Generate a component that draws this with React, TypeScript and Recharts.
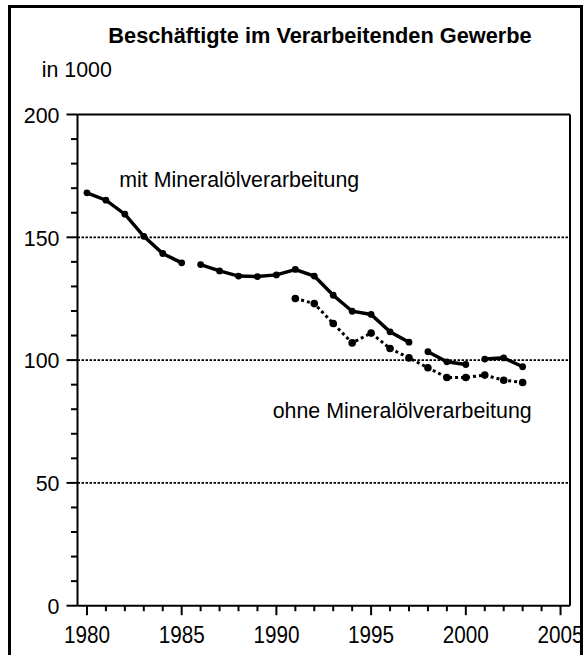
import React from "react";
import { LineChart, Line, XAxis, YAxis, ReferenceLine } from "recharts";

// Beschäftigte im Verarbeitenden Gewerbe, in 1000
const years = [
  1980, 1981, 1982, 1983, 1984, 1985, 1986, 1987, 1988, 1989, 1990, 1991,
  1992, 1993, 1994, 1995, 1996, 1997, 1998, 1999, 2000, 2001, 2002, 2003,
];
const mitValues = [
  168.1, 165.1, 159.4, 150.4, 143.4, 139.6, 138.9, 136.3, 134.2, 134.0, 134.7, 136.9,
  134.2, 126.4, 119.9, 118.6, 111.5, 107.3, 103.4, 99.3, 98.2, 100.4, 100.9, 97.3,
];
const ohneValues = [
  null, null, null, null, null, null, null, null, null, null, null, 125.1,
  123.0, 114.9, 107.0, 111.0, 104.7, 100.9, 96.9, 92.9, 92.9, 93.9, 91.8, 90.9,
];
// years where the "mit" line starts a new segment
const mitBreaks = [1986, 1998, 2001];

const xTicks = [
  1980, 1981, 1982, 1983, 1984, 1985, 1986, 1987, 1988, 1989, 1990, 1991, 1992,
  1993, 1994, 1995, 1996, 1997, 1998, 1999, 2000, 2001, 2002, 2003, 2004, 2005,
];
const yTicks = [0, 10, 20, 30, 40, 50, 60, 70, 80, 90, 100, 110, 120, 130, 140, 150, 160, 170, 180, 190, 200];
const gridValues = [50, 100, 150];

const FONT = "'Liberation Sans', Arial, Helvetica, sans-serif";
const SQUEEZE = 0.93; // reference font is a bit narrower than Liberation Sans

const segmentOf = (year: number) => mitBreaks.filter((b) => year >= b).length;
const mitKeys = ["mit0", "mit1", "mit2", "mit3"];

const data = years.map((year, i) => {
  const row: any = { year, ohne: ohneValues[i] };
  row["mit" + segmentOf(year)] = mitValues[i];
  return row;
});

// narrow text helper
const NText = ({ x, y, anchor = "start", size = 23, bold = false, sx = SQUEEZE, dy, children }: any) => (
  <text
    transform={`translate(${x} ${y}) scale(${sx} 1)`}
    x={0}
    y={0}
    dy={dy}
    textAnchor={anchor}
    fontSize={size}
    fontWeight={bold ? "bold" : "normal"}
    fontFamily={FONT}
    fill="#000"
  >
    {children}
  </text>
);

const YTick = (props: any) => {
  const { x, y, payload } = props;
  const major = payload.value % 50 === 0;
  return (
    <g>
      <line x1={x} x2={x - (major ? 11 : 6.5)} y1={y} y2={y} stroke="#000" strokeWidth={2} />
      {major && (
        <NText x={x - 18} y={y} dy="0.36em" anchor="end">
          {payload.value}
        </NText>
      )}
    </g>
  );
};

const XTick = (props: any) => {
  const { x, y, payload } = props;
  const major = payload.value % 5 === 0;
  return (
    <g>
      <line x1={x} x2={x} y1={y} y2={y + (major ? 9.5 : 5.5)} stroke="#000" strokeWidth={2} />
      {major && (
        <NText x={x} y={y + 29.5} dy="0.36em" anchor="middle" sx={0.9}>
          {payload.value}
        </NText>
      )}
    </g>
  );
};

export default function App() {
  return (
    <div style={{ position: "fixed", left: 0, top: 0, width: 587, height: 655, overflow: "hidden", background: "#fff" }}>
      <div
        style={{
          position: "absolute",
          left: 7.5,
          top: 5,
          width: 575.5,
          height: 700,
          border: "3px solid #000",
          boxSizing: "border-box",
        }}
      />
      <div style={{ position: "absolute", left: 0, top: 0 }}>
        <LineChart width={587} height={655} data={data} margin={{ top: 114.5, right: 17, bottom: 9.3, left: 17.5 }}>
          <XAxis
            type="number"
            dataKey="year"
            domain={[1979.5, 2005.5]}
            ticks={xTicks}
            interval={0}
            height={40}
            tickSize={0}
            tickMargin={0}
            tickLine={false}
            axisLine={{ stroke: "#000", strokeWidth: 2 }}
            tick={<XTick />}
            allowDataOverflow
          />
          <YAxis
            domain={[0, 200]}
            ticks={yTicks}
            interval={0}
            width={60}
            tickSize={0}
            tickMargin={0}
            tickLine={false}
            axisLine={{ stroke: "#000", strokeWidth: 2 }}
            tick={<YTick />}
            allowDataOverflow
          />
          {gridValues.map((v) => (
            <ReferenceLine key={v} y={v} stroke="#000" strokeWidth={1.7} strokeDasharray="2.5 1.5" />
          ))}
          <ReferenceLine y={200} stroke="#000" strokeWidth={2} />
          <ReferenceLine x={2005.5} stroke="#000" strokeWidth={2} />
          <Line
            dataKey="ohne"
            stroke="#000"
            strokeWidth={3}
            strokeDasharray="3 3"
            dot={{ r: 3.8, fill: "#000", stroke: "#000", strokeWidth: 0 }}
            activeDot={false}
            connectNulls={false}
            isAnimationActive={false}
            type="linear"
          />
          {mitKeys.map((k) => (
            <Line
              key={k}
              dataKey={k}
              stroke="#000"
              strokeWidth={3.5}
              dot={{ r: 3.4, fill: "#000", stroke: "#000", strokeWidth: 0 }}
              activeDot={false}
              connectNulls={false}
              isAnimationActive={false}
              type="linear"
            />
          ))}
        </LineChart>
      </div>
      <svg width={587} height={655} style={{ position: "absolute", left: 0, top: 0, pointerEvents: "none" }}>
        <NText x={320} y={43.3} anchor="middle" size={22} bold sx={0.99}>
          Beschäftigte im Verarbeitenden Gewerbe
        </NText>
        <NText x={41.7} y={77.3}>in 1000</NText>
        <NText x={119.3} y={187}>mit Mineralölverarbeitung</NText>
        <NText x={272.7} y={417.7}>ohne Mineralölverarbeitung</NText>
      </svg>
    </div>
  );
}
